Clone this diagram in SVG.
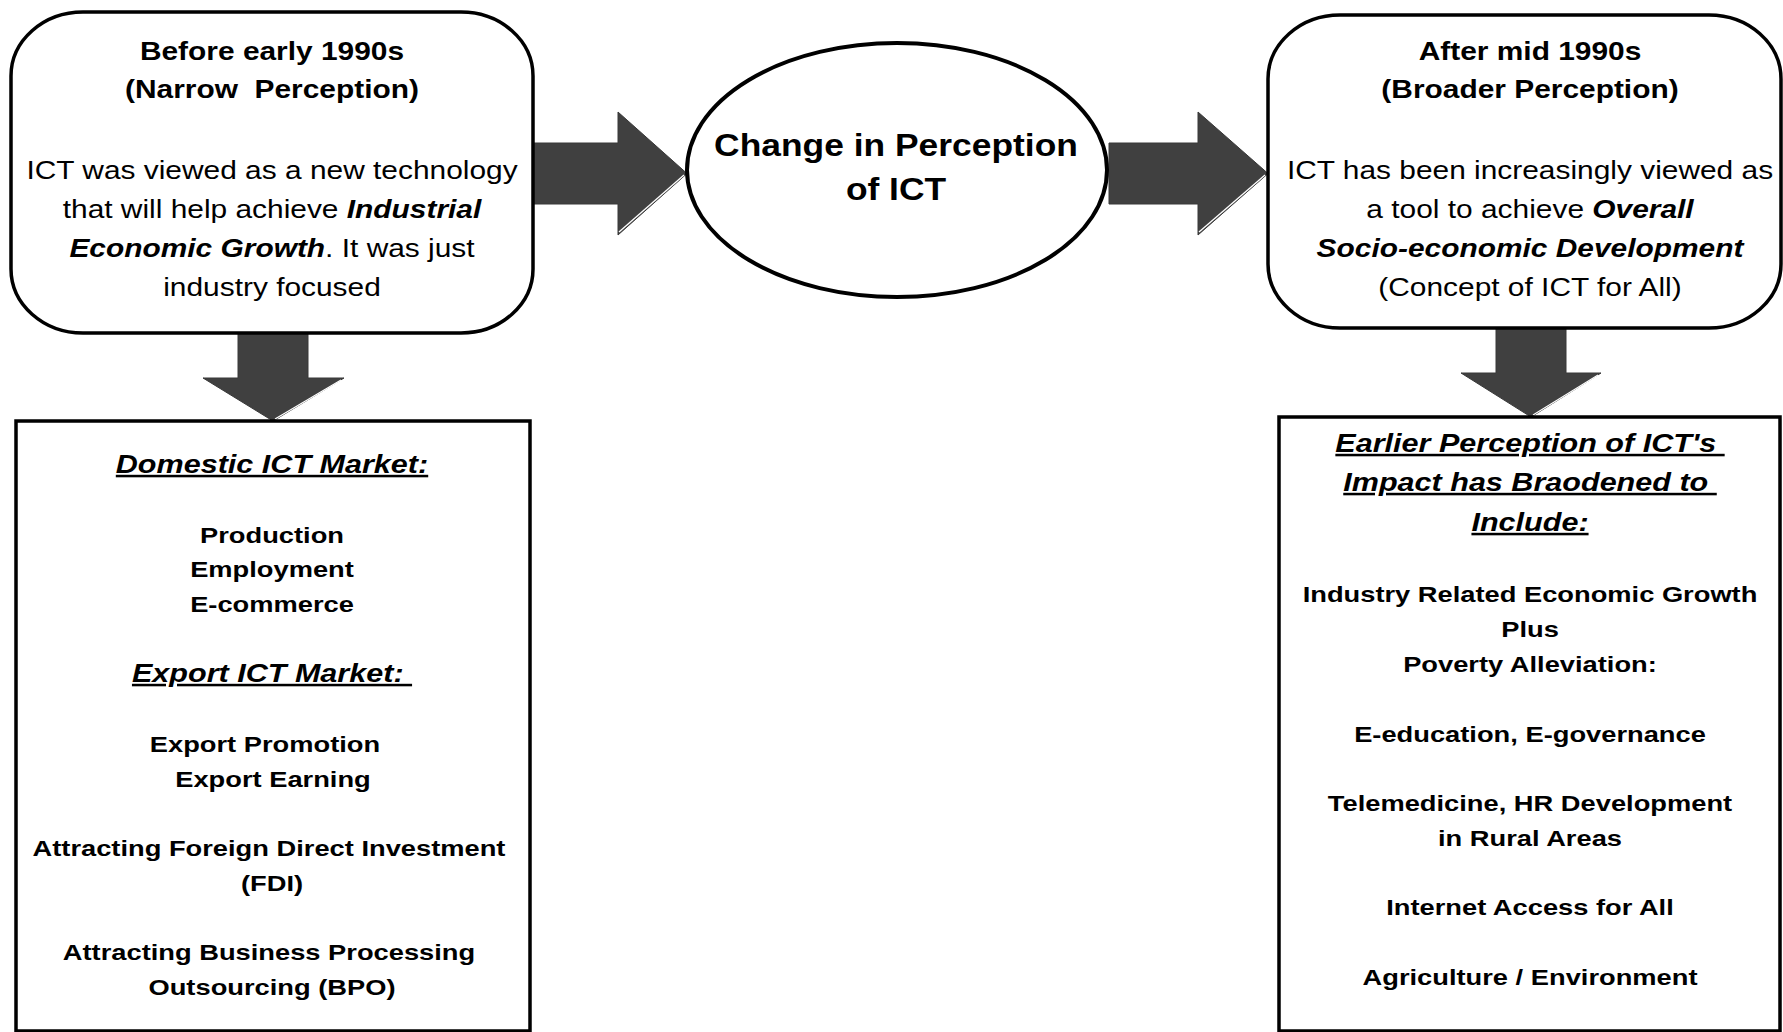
<svg xmlns="http://www.w3.org/2000/svg" width="1783" height="1032" viewBox="0 0 1783 1032">
<style>
.t{font-family:"Liberation Sans",Arial,sans-serif;text-anchor:middle;fill:#000}
.f23{font-size:25px}
.f21{font-size:22.5px;font-weight:bold}
.fh{font-size:25.2px;font-weight:bold;font-style:italic;text-decoration:underline}
.b{font-weight:bold}
.bi{font-weight:bold;font-style:italic}
.box{fill:#fff;stroke:#000;stroke-width:3.5}
.arrow{fill:#404040;stroke:#383838;stroke-width:1}
.hl{fill:none;stroke:#fff;stroke-width:1.3}
</style>
<rect width="1783" height="1032" fill="#fff"/>
<g id="connectors">
  <polygon class="arrow" points="533,143 618,143 618,112 687,173.5 618,235 618,204 533,204"/>
  <polyline class="hl" points="619,232 684,175"/>
  <polygon class="arrow" points="1109,143 1198,143 1198,112 1268,173.5 1198,235 1198,204 1109,204"/>
  <polyline class="hl" points="1199,232 1265,175"/>
  <polygon class="arrow" points="238,333 308,333 308,378 344,378 273,421 203,378 238,378"/>
  <polyline class="hl" points="341,380 275,419"/>
  <polygon class="arrow" points="1496,329 1566,329 1566,373 1601,373 1531,417 1461,373 1496,373"/>
  <polyline class="hl" points="1598,375 1533,415"/>
</g>
<g id="node-before">
  <rect class="box" x="11" y="12" width="522" height="321" rx="72" ry="64"/>
  <g transform="translate(272,0) scale(1.196,1)">
    <text class="t f23 b" x="0" y="60">Before early 1990s</text>
    <text class="t f23 b" x="0" y="98" xml:space="preserve">(Narrow  Perception)</text>
    <text class="t f23" x="0" y="179">ICT was viewed as a new technology</text>
    <text class="t f23" x="0" y="218" xml:space="preserve">that will help achieve <tspan class="bi">Industrial</tspan></text>
    <text class="t f23" x="0" y="257"><tspan class="bi">Economic Growth</tspan>. It was just</text>
    <text class="t f23" x="0" y="296">industry focused</text>
  </g>
</g>
<g id="node-change">
  <ellipse cx="897" cy="170" rx="210" ry="127" fill="#fff" stroke="#000" stroke-width="4"/>
  <g transform="translate(896,0) scale(1.142,1)">
    <text class="t b" style="font-size:31px" x="0" y="156">Change in Perception</text>
    <text class="t b" style="font-size:31px" x="0" y="200">of ICT</text>
  </g>
</g>
<g id="node-after">
  <rect class="box" x="1268" y="15" width="513" height="313" rx="72" ry="64"/>
  <g transform="translate(1530,0) scale(1.196,1)">
    <text class="t f23 b" x="0" y="60">After mid 1990s</text>
    <text class="t f23 b" x="0" y="98">(Broader Perception)</text>
    <text class="t f23" x="0" y="179">ICT has been increasingly viewed as</text>
    <text class="t f23" x="0" y="218" xml:space="preserve">a tool to achieve <tspan class="bi">Overall</tspan></text>
    <text class="t f23 bi" x="0" y="257">Socio-economic Development</text>
    <text class="t f23" x="0" y="296">(Concept of ICT for All)</text>
  </g>
</g>
<g id="node-narrow-impact">
  <rect class="box" x="16" y="421" width="514" height="610"/>
  <g transform="translate(272,0) scale(1.213,1)">
    <text class="t fh" x="0" y="473">Domestic ICT Market:</text>
    <text class="t f21" x="0" y="543">Production</text>
    <text class="t f21" x="0" y="577">Employment</text>
    <text class="t f21" x="0" y="612">E-commerce</text>
    <text class="t fh" x="0" y="682" xml:space="preserve">Export ICT Market: </text>
    <text class="t f21" x="-5.8" y="752">Export Promotion</text>
    <text class="t f21" x="0.8" y="787">Export Earning</text>
    <text class="t f21" x="-2.5" y="856">Attracting Foreign Direct Investment</text>
    <text class="t f21" x="0" y="891">(FDI)</text>
    <text class="t f21" x="-2.5" y="960">Attracting Business Processing</text>
    <text class="t f21" x="0" y="995">Outsourcing (BPO)</text>
  </g>
</g>
<g id="node-broad-impact">
  <rect class="box" x="1279" y="417" width="501" height="614"/>
  <g transform="translate(1530,0) scale(1.213,1)">
    <text class="t fh" x="0" y="452" xml:space="preserve">Earlier Perception of ICT's </text>
    <text class="t fh" x="0" y="491" xml:space="preserve">Impact has Braodened to </text>
    <text class="t fh" x="0" y="531">Include:</text>
    <text class="t f21" x="0" y="602">Industry Related Economic Growth</text>
    <text class="t f21" x="0" y="637">Plus</text>
    <text class="t f21" x="0" y="672">Poverty Alleviation:</text>
    <text class="t f21" x="0" y="742">E-education, E-governance</text>
    <text class="t f21" x="0" y="811">Telemedicine, HR Development</text>
    <text class="t f21" x="0" y="846">in Rural Areas</text>
    <text class="t f21" x="0" y="915">Internet Access for All</text>
    <text class="t f21" x="0" y="985">Agriculture / Environment</text>
  </g>
</g>
</svg>
